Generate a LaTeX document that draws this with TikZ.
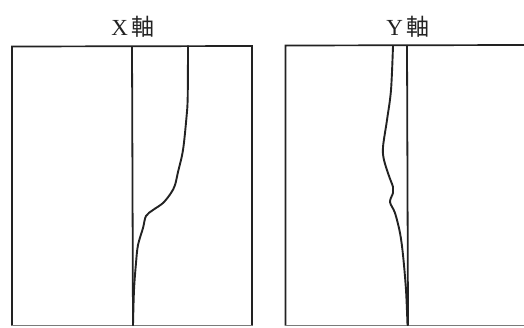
\documentclass[tikz,border=0pt]{standalone}
\usepackage{fontspec}
\setmainfont{Liberation Serif}
\newfontfamily\cjk{Noto Sans CJK JP}
\definecolor{ink}{HTML}{222222}
\begin{document}
\begin{tikzpicture}[x=1pt,y=-1pt,
  frame/.style={draw=ink,line width=1.7pt},
  axisline/.style={draw=ink,line width=1.8pt},
  curve/.style={draw=ink,line width=1.9pt,line join=round,line cap=round},
  label/.style={font=\fontsize{23}{25}\selectfont,text=ink,inner sep=0pt,anchor=base}]
\useasboundingbox (0,0) rectangle (524,327);
\fill[white] (0,0) rectangle (524,327);
% left panel
\draw[frame] (12,325.5) -- (12,46.5) -- (252,46) -- (252,325.5);
\draw[frame,draw=ink!60] (12,325.5) -- (252,325.5);
\draw[axisline] (132,46) -- (133,325.5);
\draw[curve] plot[smooth,tension=0.55] coordinates {(188,46) (187.7,97) (186.5,117) (183,150) (178,172) (175,185) (171,193) (163,203) (153,210) (146,216) (143,228) (138,245) (136,263) (134,290) (133,325)};
\node[label] (xl) at (133,35) {X\,{\cjk 軸}};
% right panel
\draw[frame] (285.5,325.5) -- (285.5,45.5) -- (524,45);
\draw[frame,draw=ink!60] (285.5,325.5) -- (524,325.5);
\draw[axisline] (407,45.5) -- (408,325.5);
\draw[curve] plot[smooth,tension=0.55] coordinates {(393,46) (391,90) (387,120) (383,147) (384,160) (389,176) (393,187) (393,193) (390,202) (395,213) (400,233) (403,255) (406,290) (407.5,325)};
\node[label] (yl) at (408,35) {Y\,{\cjk 軸}};
\end{tikzpicture}
\end{document}
